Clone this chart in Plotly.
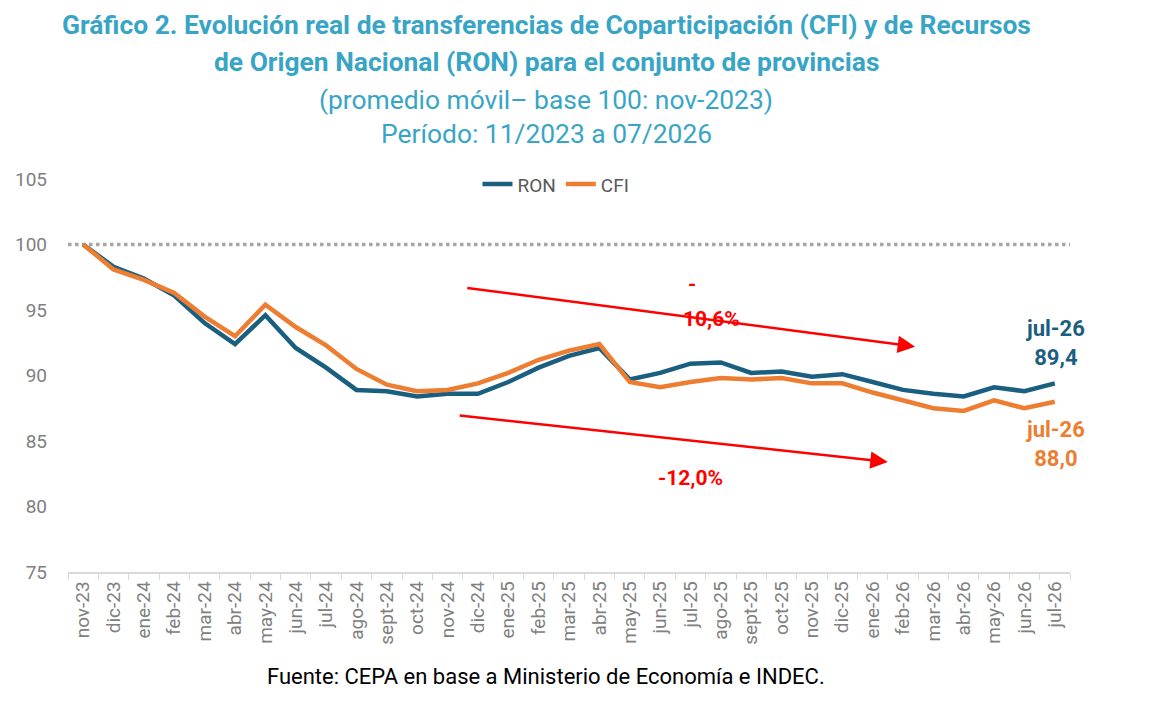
import plotly.graph_objects as go

months = ["nov-23","dic-23","ene-24","feb-24","mar-24","abr-24","may-24","jun-24","jul-24",
          "ago-24","sept-24","oct-24","nov-24","dic-24","ene-25","feb-25","mar-25","abr-25",
          "may-25","jun-25","jul-25","ago-25","sept-25","oct-25","nov-25","dic-25","ene-26",
          "feb-26","mar-26","abr-26","may-26","jun-26","jul-26"]

ron = [100.0, 98.3, 97.4, 96.1, 94.0, 92.4, 94.6, 92.1, 90.6, 88.9, 88.8, 88.4, 88.6,
       88.6, 89.5, 90.6, 91.5, 92.1, 89.7, 90.2, 90.9, 91.0, 90.2, 90.3, 89.9, 90.1,
       89.5, 88.9, 88.6, 88.4, 89.1, 88.8, 89.4]

cfi = [100.0, 98.1, 97.3, 96.3, 94.5, 93.0, 95.4, 93.7, 92.3, 90.5, 89.3, 88.8, 88.9,
       89.4, 90.2, 91.2, 91.9, 92.4, 89.5, 89.1, 89.5, 89.8, 89.7, 89.8, 89.4, 89.4,
       88.7, 88.1, 87.5, 87.3, 88.1, 87.5, 88.0]

base_value = 100
y_ticks = [75, 80, 85, 90, 95, 100, 105]

title_lines = [
    ("<b>Gráfico 2. Evolución real de transferencias de Coparticipación (CFI) y de Recursos</b>", 25),
    ("<b>de Origen Nacional (RON) para el conjunto de provincias</b>", 62),
    ("(promedio móvil– base 100: nov-2023)", 100),
    ("Período: 11/2023 a 07/2026", 134),
]

RON_C = "#1B5F80"
CFI_C = "#ED7D31"
TITLE_C = "#38A5C6"
GRAY = "#808080"
RED = "#FF0000"

fig = go.Figure()
fig.add_trace(go.Scatter(x=months, y=ron, name="RON", mode="lines",
                         line=dict(color=RON_C, width=4.5)))
fig.add_trace(go.Scatter(x=months, y=cfi, name="CFI", mode="lines",
                         line=dict(color=CFI_C, width=4.5)))

fig.add_shape(type="line", xref="paper", x0=0, x1=1, yref="y", y0=base_value, y1=base_value,
              line=dict(color="#A6A6A6", width=3.5, dash="dot"), layer="below")

# trend arrows
fig.add_annotation(x=27.4, y=92.2, ax=12.6, ay=96.7, xref="x", yref="y", axref="x", ayref="y",
                   showarrow=True, arrowhead=2, arrowsize=1.4, arrowwidth=2.5, arrowcolor=RED, text="")
fig.add_annotation(x=26.5, y=83.4, ax=12.35, ay=86.95, xref="x", yref="y", axref="x", ayref="y",
                   showarrow=True, arrowhead=2, arrowsize=1.4, arrowwidth=2.5, arrowcolor=RED, text="")

redfont = dict(family="Roboto", size=21, color=RED, weight="bold")
fig.add_annotation(x=20.06, y=96.95, xref="x", yref="y", text="-", showarrow=False, font=redfont)
fig.add_annotation(x=20.7, y=94.35, xref="x", yref="y", text="10,6%", showarrow=False, font=redfont)
fig.add_annotation(x=20.0, y=82.2, xref="x", yref="y", text="-12,0%", showarrow=False, font=redfont)

fig.add_annotation(x=32, y=92.45, xref="x", yref="y",
                   text=f"{months[-1]}<br>{ron[-1]:.1f}".replace(".", ","), showarrow=False,
                   font=dict(family="Roboto", size=22, color=RON_C, weight="bold"))
fig.add_annotation(x=32, y=84.75, xref="x", yref="y",
                   text=f"{months[-1]}<br>{cfi[-1]:.1f}".replace(".", ","), showarrow=False,
                   font=dict(family="Roboto", size=22, color=CFI_C, weight="bold"))

# titles
plot_left, plot_right, plot_top = 68, 1070, 179
cx = (546 - plot_left) / (plot_right - plot_left)
for txt, ypix in title_lines:
    fig.add_annotation(x=cx, y=1.0, xref="paper", yref="paper", yanchor="middle", showarrow=False,
                       yshift=plot_top - ypix, text=txt,
                       font=dict(family="Roboto", size=26.4, color=TITLE_C))

fig.add_annotation(x=cx, y=0, xref="paper", yref="paper", yanchor="middle", showarrow=False,
                   yshift=-104,
                   text="Fuente: CEPA en base a Ministerio de Economía e INDEC.",
                   font=dict(family="Roboto", size=22, color="#000000"))

fig.update_layout(
    width=1170, height=704,
    margin=dict(l=60, r=108, t=171, b=140),
    paper_bgcolor="white", plot_bgcolor="white",
    font=dict(family="Roboto", color=GRAY),
    showlegend=True,
    legend=dict(orientation="h", x=(556 - plot_left) / (plot_right - plot_left), xanchor="center",
                y=1.035, yanchor="top",
                font=dict(size=19, color="#595959"), bgcolor="rgba(0,0,0,0)"),
    xaxis=dict(type="category", showgrid=False, showline=True, linecolor="#D9D9D9", linewidth=1.5,
               ticks="outside", tickson="boundaries", tickcolor="#D9D9D9", ticklen=6,
               tickangle=-90, tickfont=dict(size=19, color=GRAY), range=[-0.5, len(months) - 0.5],
               automargin=False),
    yaxis=dict(range=[75, 105], tickvals=y_ticks, showgrid=False, zeroline=False, showline=False,
               tickfont=dict(size=19, color=GRAY), ticklabelstandoff=20, automargin=False),
)

fig.write_html("out.html")
